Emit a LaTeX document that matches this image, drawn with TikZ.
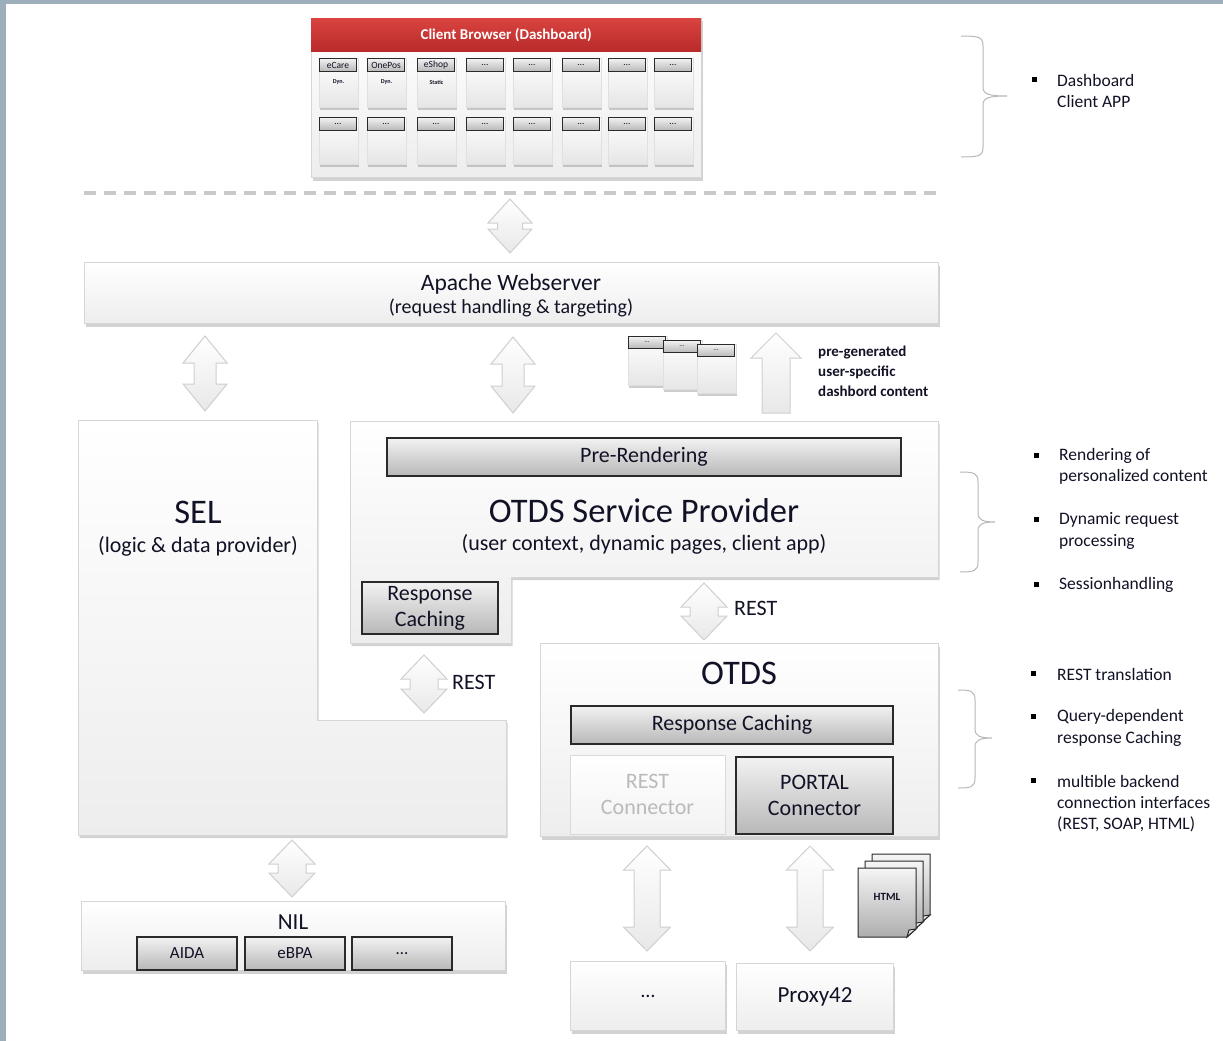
\documentclass[tikz,border=0pt]{standalone}
\usepackage{fontspec}
\setmainfont{Carlito}
\usetikzlibrary{shadows}
\definecolor{txt}{HTML}{121226}
\definecolor{boxline}{HTML}{D6D6D6}
\definecolor{darkline}{HTML}{2A2A2A}
\definecolor{redtop}{HTML}{D9443F}
\definecolor{redbot}{HTML}{B92A2B}
\definecolor{framec}{HTML}{9BAEB9}
\definecolor{arrowline}{HTML}{CFCFCF}
\newcommand\fsz[2]{\fontsize{#1}{#2}\selectfont}
% vertical double fat arrow: cx, ytop, ybot, head half width, shaft half width, head length
\newcommand\fatud[6]{\path[fatarrow] (#1,#2) -- ({#1+#4},{#2+#6}) -- ({#1+#5},{#2+#6}) -- ({#1+#5},{#3-#6}) -- ({#1+#4},{#3-#6}) -- (#1,#3) -- ({#1-#4},{#3-#6}) -- ({#1-#5},{#3-#6}) -- ({#1-#5},{#2+#6}) -- ({#1-#4},{#2+#6}) -- cycle;}
% right brace: x ends, x line, x tip, ytop, ymid, ybot
\newcommand\sidebrace[6]{\draw[bracec] (#1,#4) .. controls ({#2-4},#4) and (#2,{#4+1}) .. (#2,{#4+10}) -- (#2,{#5-9}) .. controls (#2,{#5-2}) and ({#2+5},#5) .. (#3,#5) .. controls ({#2+5},#5) and (#2,{#5+2}) .. (#2,{#5+9}) -- (#2,{#6-10}) .. controls (#2,{#6-1}) and ({#2-4},#6) .. (#1,#6);}
\newcommand\htmlpage[2]{\path[pagefill] (#1,#2) -- ({#1+58},#2) -- ({#1+58},{#2+61}) -- ({#1+49},{#2+69}) -- (#1,{#2+69}) -- cycle;
\path[pagefill] ({#1+58},{#2+61}) -- ({#1+51},{#2+62}) -- ({#1+49},{#2+69}) -- cycle;}
\tikzset{
  lightbox/.style={draw=boxline, line width=1pt, top color=white, bottom color=black!7,
    drop shadow={shadow xshift=1.5pt, shadow yshift=-3pt, opacity=0.35}},
  darkbox/.style={draw=darkline, line width=1.2pt, top color=black!5, bottom color=black!28, inner sep=0},
  fatarrow/.style={draw=arrowline, line width=1pt, top color=white, bottom color=black!9},
  tilebody/.style={draw=black!12, line width=0.6pt, top color=white, bottom color=black!10, inner sep=0,
    minimum width=39pt, drop shadow={shadow xshift=1pt, shadow yshift=-2.5pt, opacity=0.4}},
  tilehead/.style={darkbox, line width=1pt, minimum width=37pt, inner sep=0, font=\fsz{9.5}{10}},
  redhead/.style={top color=redtop, bottom color=redbot, inner sep=0},
  bracec/.style={draw=black!28, line width=1pt},
  dashline/.style={draw=black!21, line width=4pt, dash pattern=on 12pt off 8pt},
  bulletsq/.style={fill=black, minimum size=5pt, inner sep=0},
  pagefill/.style={draw=darkline, line width=1pt, top color=black!4, bottom color=black!32},
  side/.style={anchor=west, inner sep=0, font=\fsz{17.5}{21}},
  pregen/.style={anchor=west, inner sep=0, font=\bfseries\fsz{15}{18}},
  every node/.style={text=txt}
}
\begin{document}
\begin{tikzpicture}[x=1pt,y=-1pt]
\useasboundingbox (0,0) rectangle (1223,1041);
\fill[white] (0,0) rectangle (1223,1041);
\fill[framec] (0,0) rectangle (6,1041);
\fill[framec] (0,0) rectangle (1223,4);

% ---------------- Client browser
\node[lightbox, minimum width=390pt, minimum height=159pt, anchor=north west, inner sep=0] (client) at (311,18) {};
\node[redhead, minimum width=390pt, minimum height=33pt, anchor=north west, font=\bfseries\fsz{15}{18}, text=white] (clienthead) at (311,18) {Client Browser (Dashboard)};
\foreach \x/\lab/\sub [count=\i] in {319/eCare/Dyn., 367/OnePos/Dyn., 417/eShop/Static, 466/{\dots}/{}, 513/{\dots}/{}, 562/{\dots}/{}, 608/{\dots}/{}, 654/{\dots}/{}} {
  \node[tilebody, minimum height=49pt, anchor=north west] (ta\i) at (\x,58) {};
  \node[tilehead, minimum height=13pt, anchor=north west] (tah\i) at (\x,58) {\lab};
  \node[font=\bfseries\fsz{6}{7}, inner sep=0] (tas\i) at ({\x+19.5},82) {\sub};
  \node[tilebody, minimum height=47pt, anchor=north west] (tb\i) at (\x,117) {};
  \node[tilehead, minimum height=13pt, anchor=north west] (tbh\i) at (\x,117) {\dots};
}
\sidebrace{961}{983}{1007}{36}{96}{157}
\node[bulletsq] (b1) at (1034,79) {};
\node[side] (d1) at (1057,80) {Dashboard};
\node[side] (d2) at (1057,101) {Client APP};

% ---------------- dashed separator
\draw[dashline] (84,193) -- (940,193);
\fatud{510}{199}{253}{22}{12.5}{24}

% ---------------- Apache
\node[lightbox, minimum width=854pt, minimum height=61pt, anchor=north west, inner sep=0] (apache) at (84,262) {};
\node[font=\fsz{23.5}{28}] (apachet) at (511,284) {Apache Webserver};
\node[font=\fsz{20}{24}] (apaches) at (511,308) {(request handling \& targeting)};

\fatud{205}{336}{411}{22}{11}{27}
\fatud{513}{337}{413}{22}{11}{27}

% pre-generated pages
\foreach \x/\y [count=\i] in {628/336, 663/340, 697/344} {
  \node[tilebody, minimum height=49pt, anchor=north west] (pg\i) at (\x,\y) {};
  \node[tilehead, minimum height=12pt, anchor=north west, font=\fsz{7}{8}] (pgh\i) at (\x,\y) {\dots};
}
\path[fatarrow] (776,333) -- (801,358) -- (790,358) -- (790,413) -- (762,413) -- (762,358) -- (751,358) -- cycle;
\node[pregen] (pre1) at (818,353) {pre-generated};
\node[pregen] (pre2) at (818,372) {user-specific};
\node[pregen] (pre3) at (818,391) {dashbord content};

% ---------------- SEL
\path[lightbox] (78,420) -- (317,420) -- (317,720) -- (506,720) -- (506,835) -- (78,835) -- cycle;
\node[font=\fsz{34.5}{40}] (selt) at (198,512) {SEL};
\node[font=\fsz{22}{26}] (sels) at (198,546) {(logic \& data provider)};

% ---------------- OTDS Service Provider
\path[lightbox] (350,421) -- (938,421) -- (938,577) -- (511,577) -- (511,643) -- (350,643) -- cycle;
\node[darkbox, minimum width=514pt, minimum height=38pt, font=\fsz{22}{26}] (prerender) at (644,457) {Pre-Rendering};
\node[font=\fsz{34.5}{40}] (spt) at (644,511) {OTDS Service Provider};
\node[font=\fsz{22}{26}] (sps) at (644,544) {(user context, dynamic pages, client app)};
\node[darkbox, minimum width=136pt, minimum height=52pt, align=center, font=\fsz{22}{26}] (rcache1) at (430,608) {Response\\Caching};

\sidebrace{960}{978}{995}{472}{522}{572}
\node[bulletsq] (b2) at (1036,455) {};
\node[side] (r1) at (1059,456) {Rendering of};
\node[side] (r2) at (1059,477) {personalized content};
\node[bulletsq] (b3) at (1036,519) {};
\node[side] (r3) at (1059,520) {Dynamic request};
\node[side] (r4) at (1059,542) {processing};
\node[bulletsq] (b4) at (1036,584) {};
\node[side] (r5) at (1059,585) {Sessionhandling};

% REST arrows
\fatud{704}{583}{640}{23}{14}{24}
\node[anchor=west, inner sep=0, font=\fsz{22}{26}] (rest1) at (734,608) {REST};
\fatud{424}{655}{713}{23}{14}{24}
\node[anchor=west, inner sep=0, font=\fsz{22}{26}] (rest2) at (452,682) {REST};

% ---------------- OTDS
\node[lightbox, minimum width=398pt, minimum height=193pt, anchor=north west, inner sep=0] (otds) at (540,643) {};
\node[font=\fsz{34.5}{40}] (otdst) at (739,673) {OTDS};
\node[darkbox, minimum width=322pt, minimum height=38pt, font=\fsz{22}{26}] (rcache2) at (732,725) {Response Caching};
\node[draw=black!15, line width=1pt, top color=white, bottom color=black!5, minimum width=155pt, minimum height=79pt, inner sep=0, align=center, font=\fsz{22}{26}, text=black!27] (restcon) at (647.5,794.5) {REST\\Connector};
\node[darkbox, minimum width=157pt, minimum height=77pt, align=center, font=\fsz{22}{26}] (portal) at (814.5,795.5) {PORTAL\\Connector};

\sidebrace{958}{975}{992}{690}{738}{788}
\node[bulletsq] (b5) at (1033,673) {};
\node[side] (o1) at (1057,674) {REST translation};
\node[bulletsq] (b6) at (1033,716) {};
\node[side] (o2) at (1057,717) {Query-dependent};
\node[side] (o3) at (1057,739) {response Caching};
\node[bulletsq] (b7) at (1033,780) {};
\node[side] (o4) at (1057,781) {multible backend};
\node[side] (o5) at (1057,803) {connection interfaces};
\node[side] (o6) at (1057,824) {(REST, SOAP, HTML)};

% ---------------- NIL
\fatud{292}{840}{897}{23}{14}{24}
\node[lightbox, minimum width=424pt, minimum height=69pt, anchor=north west, inner sep=0] (nil) at (81,901) {};
\node[font=\fsz{23}{27}] (nilt) at (293,922) {NIL};
\node[darkbox, minimum width=100pt, minimum height=33pt, font=\fsz{17}{20}] (aida) at (187,953.5) {AIDA};
\node[darkbox, minimum width=100pt, minimum height=33pt, font=\fsz{17}{20}] (ebpa) at (295,953.5) {eBPA};
\node[darkbox, minimum width=100pt, minimum height=33pt, font=\fsz{17}{20}] (nilmore) at (402,953.5) {\dots};

% ---------------- backends
\fatud{647}{846}{951}{23.5}{13}{24}
\fatud{810}{846}{951}{23.5}{13}{24}
\node[lightbox, minimum width=155pt, minimum height=69pt, anchor=north west, inner sep=0, font=\fsz{20}{24}] (bmore) at (570,961) {\dots};
\node[lightbox, minimum width=157pt, minimum height=67pt, anchor=north west, inner sep=0, font=\fsz{23}{27}] (proxy) at (736,963) {Proxy42};

% HTML pages
\htmlpage{872}{854}
\htmlpage{865}{861}
\htmlpage{858}{868}
\node[font=\bfseries\fsz{11}{13}, inner sep=0] (html) at (887,897) {HTML};
\end{tikzpicture}
\end{document}
